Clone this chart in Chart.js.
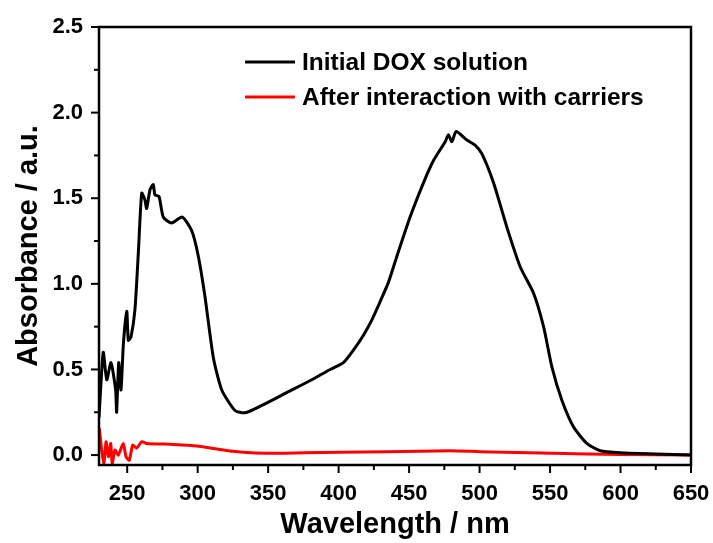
<!DOCTYPE html>
<html>
<head>
<meta charset="utf-8">
<script src="https://cdn.jsdelivr.net/npm/chart.js@4/dist/chart.umd.min.js"></script>
<style>
  html, body { margin: 0; padding: 0; background: #fff; }
  #wrap { width: 713px; height: 543px; }
</style>
</head>
<body>
<div id="wrap"><canvas id="chart" width="713" height="543"></canvas></div>
<script>
// Initial DOX solution (wavelength nm, absorbance)
var doxX = [230, 233, 235.5, 238.5, 241.8, 242.5, 244, 245.6, 247.3, 249.7, 250.8, 252.7, 255.5, 257.9,
  260.3, 262.6, 263.8, 266.2, 268.5, 269.7, 272.6, 275.6, 281.5, 289.1, 295.8, 300.5, 305.2, 311.1,
  317.1, 326.5, 333.6, 345.5, 362, 381, 394, 403.4, 410.5, 417.6, 423.6, 429.4, 435.4, 441.3, 450.7,
  460.2, 467.3, 475.6, 477.9, 480.3, 483.4, 491, 496.8, 501.6, 509.9, 519.4, 528.8, 538.3, 545.4,
  551.3, 558.4, 566.6, 576.1, 585.6, 599.8, 625, 650];
var doxY = [0.22, 0.60, 0.44, 0.54, 0.38, 0.25, 0.54, 0.38, 0.65, 0.84, 0.67, 0.69, 0.85, 1.18,
  1.53, 1.49, 1.44, 1.55, 1.58, 1.52, 1.51, 1.39, 1.355, 1.39, 1.31, 1.16, 0.925, 0.57,
  0.38, 0.26, 0.247, 0.29, 0.36, 0.44, 0.50, 0.54, 0.613, 0.70, 0.79, 0.895, 1.01, 1.16, 1.39,
  1.59, 1.72, 1.83, 1.87, 1.83, 1.89, 1.84, 1.81, 1.76, 1.59, 1.33, 1.10, 0.945, 0.75,
  0.515, 0.32, 0.165, 0.068, 0.025, 0.013, 0.006, 0.0];

// After interaction with carriers
var carX = [230.2, 231.9, 233.5, 235, 236.6, 238.3, 239.4, 241.3, 243.7, 247.2, 249.2, 251.5, 253.9,
  256.7, 260.3, 263.8, 282.7, 299.3, 318.2, 332.4, 349, 375, 401, 434, 479, 500.4, 552.4, 599.8, 650];
var carY = [0.157, 0.03, -0.047, 0.078, -0.01, 0.068, -0.05, 0.03, 0.0, 0.068, -0.01, -0.03, 0.058,
  0.04, 0.078, 0.068, 0.062, 0.053, 0.03, 0.016, 0.01, 0.013, 0.016, 0.02, 0.025, 0.02, 0.01, 0.004, 0.0];

var seriesNames = ['Initial DOX solution', 'After interaction with carriers'];
var seriesColors = ['#000000', '#ff0000'];

function toPoints(xs, ys) {
  var pts = [];
  for (var i = 0; i < xs.length; i++) pts.push({x: xs[i], y: ys[i]});
  return pts;
}

var FONT = 'Liberation Sans, Arial, sans-serif';

// frame, minor ticks and the in-plot legend
var framePlugin = {
  id: 'frame',
  afterDraw: function(chart) {
    var ctx = chart.ctx;
    var a = chart.chartArea;
    var xs = chart.scales.x, ys = chart.scales.y;
    ctx.save();
    ctx.strokeStyle = '#000';
    ctx.lineWidth = 2.5;
    ctx.strokeRect(a.left, a.top, a.right - a.left, a.bottom - a.top);

    ctx.lineWidth = 2;
    // x ticks (major 50, minor 25)
    for (var v = 250; v <= 650; v += 25) {
      var px = xs.getPixelForValue(v);
      var len = (v % 50 === 0) ? 8 : 5;
      ctx.beginPath();
      ctx.moveTo(px, a.bottom);
      ctx.lineTo(px, a.bottom + len);
      ctx.stroke();
    }
    // y ticks (major 0.5, minor 0.25)
    for (var k = 0; k <= 10; k++) {
      var val = k * 0.25;
      var py = ys.getPixelForValue(val);
      var l = (k % 2 === 0) ? 8 : 5;
      ctx.beginPath();
      ctx.moveTo(a.left, py);
      ctx.lineTo(a.left - l, py);
      ctx.stroke();
    }

    // legend
    ctx.font = 'bold 24.5px ' + FONT;
    ctx.textBaseline = 'middle';
    ctx.textAlign = 'left';
    for (var i = 0; i < seriesNames.length; i++) {
      var ly = 62 + i * 35;
      ctx.strokeStyle = seriesColors[i];
      ctx.lineWidth = 3;
      ctx.beginPath();
      ctx.moveTo(245, ly);
      ctx.lineTo(295, ly);
      ctx.stroke();
      ctx.fillStyle = '#000';
      ctx.fillText(seriesNames[i], 302, ly + 1);
    }
    ctx.restore();
  }
};

var chart = new Chart(document.getElementById('chart'), {
  type: 'line',
  data: {
    datasets: [
      {
        label: seriesNames[0],
        data: toPoints(doxX, doxY),
        borderColor: seriesColors[0],
        borderWidth: 3,
        pointRadius: 0,
        tension: 0.2,
        fill: false
      },
      {
        label: seriesNames[1],
        data: toPoints(carX, carY),
        borderColor: seriesColors[1],
        borderWidth: 3,
        pointRadius: 0,
        tension: 0.2,
        fill: false
      }
    ]
  },
  options: {
    responsive: false,
    animation: false,
    layout: { padding: { top: 27, right: 22, left: 0, bottom: 0 } },
    plugins: { legend: { display: false }, tooltip: { enabled: false } },
    scales: {
      x: {
        type: 'linear',
        min: 230,
        max: 650,
        afterBuildTicks: function(scale) {
          var t = [];
          for (var v = 250; v <= 650; v += 50) t.push({value: v});
          scale.ticks = t;
        },
        afterFit: function(scale) {
          scale.height = 78;
          scale.paddingRight = 0;
          scale.paddingLeft = 0;
        },
        grid: { display: false },
        border: { display: false },
        ticks: {
          color: '#000',
          padding: 8,
          maxRotation: 0,
          font: { family: FONT, size: 22, weight: 'bold' }
        },
        title: {
          display: true,
          text: 'Wavelength / nm',
          color: '#000',
          padding: { top: 0, bottom: 1 },
          font: { family: FONT, size: 29, weight: 'bold', lineHeight: 1.2 }
        }
      },
      y: {
        type: 'linear',
        min: -0.058,
        max: 2.5,
        afterBuildTicks: function(scale) {
          var t = [];
          for (var k = 0; k <= 5; k++) t.push({value: k * 0.5});
          scale.ticks = t;
        },
        afterFit: function(scale) {
          scale.width = 99;
          scale.paddingTop = 0;
          scale.paddingBottom = 0;
        },
        grid: { display: false },
        border: { display: false },
        ticks: {
          color: '#000',
          padding: 8,
          font: { family: FONT, size: 22, weight: 'bold' },
          callback: function(v) { return Number(v).toFixed(1); }
        },
        title: {
          display: true,
          text: 'Absorbance / a.u.',
          color: '#000',
          padding: { top: 12, bottom: 0 },
          font: { family: FONT, size: 29, weight: 'bold', lineHeight: 1.2 }
        }
      }
    }
  },
  plugins: [framePlugin]
});
</script>
</body>
</html>
